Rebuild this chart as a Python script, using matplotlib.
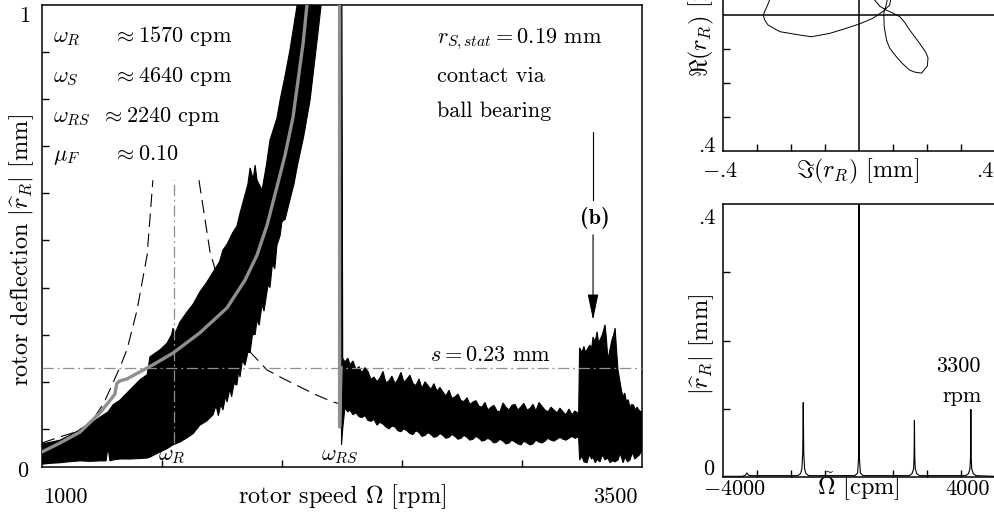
import numpy as np
import matplotlib
matplotlib.use('Agg')
import matplotlib.pyplot as plt

plt.rcParams['font.family'] = 'cmr10'
plt.rcParams['mathtext.fontset'] = 'cm'
plt.rcParams['axes.unicode_minus'] = False
plt.rcParams['axes.linewidth'] = 1.1

# --- run-up measurement: upper and lower edge of the black band (rpm, mm)
upper_rpm = [1000, 1040, 1075, 1110, 1158, 1200, 1242, 1275, 1296, 1325, 1367, 1408, 1438, 1450,
             1492, 1521, 1540, 1546, 1552, 1575, 1604, 1630, 1658, 1685, 1713, 1740, 1754, 1771,
             1796, 1812, 1825, 1846, 1858, 1867, 1880, 1888, 1896, 1917, 1935, 1950, 1979, 1992,
             2013, 2033, 2063, 2090, 2248,
             2253, 2262, 2275, 2283, 2296, 2308, 2321, 2333, 2346, 2358, 2371, 2383, 2396, 2408,
             2421, 2433, 2446, 2458, 2471, 2483, 2496, 2508, 2521, 2533, 2546, 2558, 2571, 2583,
             2596, 2608, 2621, 2633, 2646, 2658, 2671, 2683, 2696, 2708, 2721, 2733, 2746, 2758,
             2771, 2783, 2796, 2808, 2821, 2833, 2846, 2858, 2871, 2883, 2896, 2908, 2921, 2933,
             2946, 2958, 2971, 2983, 2996, 3008, 3021, 3033, 3046, 3058, 3071, 3083, 3096, 3108,
             3121, 3133, 3146, 3158, 3171, 3183, 3196, 3208, 3221, 3236, 3240, 3250, 3258, 3265,
             3271, 3283, 3290, 3296, 3305, 3313, 3320, 3325, 3335, 3346, 3352, 3358, 3367, 3375,
             3382, 3388, 3395, 3400, 3410, 3415, 3421, 3428, 3435, 3442, 3450, 3458, 3465, 3472,
             3479, 3490, 3500]
upper_mm = [0.068, 0.072, 0.076, 0.085, 0.098, 0.110, 0.125, 0.136, 0.151, 0.161, 0.183, 0.204,
            0.215, 0.253, 0.268, 0.282, 0.300, 0.314, 0.300, 0.327, 0.348, 0.365, 0.391, 0.410,
            0.433, 0.455, 0.480, 0.492, 0.518, 0.530, 0.558, 0.597, 0.620, 0.654, 0.630, 0.660,
            0.628, 0.607, 0.660, 0.713, 0.760, 0.798, 0.850, 0.904, 1.0, 1.3, 1.3,
            0.250, 0.242, 0.250, 0.236, 0.244, 0.226, 0.232, 0.219, 0.230, 0.222, 0.205, 0.210,
            0.200, 0.208, 0.222, 0.198, 0.202, 0.212, 0.196, 0.205, 0.220, 0.199, 0.206, 0.214,
            0.196, 0.192, 0.206, 0.186, 0.200, 0.192, 0.184, 0.196, 0.180, 0.188, 0.178, 0.170,
            0.182, 0.165, 0.168, 0.174, 0.160, 0.158, 0.166, 0.152, 0.157, 0.160, 0.148, 0.146,
            0.156, 0.140, 0.146, 0.150, 0.138, 0.136, 0.155, 0.146, 0.140, 0.150, 0.152, 0.140,
            0.147, 0.154, 0.140, 0.143, 0.152, 0.138, 0.156, 0.148, 0.140, 0.136, 0.146, 0.140,
            0.134, 0.144, 0.136, 0.130, 0.142, 0.130, 0.138, 0.132, 0.272, 0.262, 0.275, 0.262,
            0.268, 0.278, 0.270, 0.295, 0.285, 0.306, 0.280, 0.289, 0.300, 0.321, 0.290, 0.246,
            0.270, 0.289, 0.300, 0.314, 0.260, 0.225, 0.195, 0.180, 0.168, 0.176, 0.158, 0.162,
            0.146, 0.152, 0.150, 0.140, 0.146, 0.138, 0.136]
lower_rpm = [1000, 1040, 1075, 1110, 1158, 1200, 1242, 1267, 1275, 1283, 1296, 1325, 1367, 1408,
             1438, 1450, 1492, 1521, 1546, 1575, 1604, 1630, 1658, 1685, 1713, 1725, 1735, 1745,
             1754, 1765, 1771, 1783, 1790, 1800, 1812, 1820, 1825, 1835, 1846, 1858, 1867, 1877,
             1888, 1896, 1905, 1917, 1925, 1942, 1950, 1960, 1970, 1979, 1992, 2000, 2013, 2033,
             2050, 2063, 2090, 2117, 2150, 2163, 2200, 2248, 2248,
             2253, 2262, 2275, 2283, 2296, 2308, 2321, 2333, 2346, 2358, 2371, 2383, 2396, 2408,
             2421, 2433, 2446, 2458, 2471, 2483, 2496, 2508, 2521, 2533, 2546, 2558, 2571, 2583,
             2596, 2608, 2621, 2633, 2646, 2658, 2671, 2683, 2696, 2708, 2721, 2733, 2746, 2758,
             2771, 2783, 2796, 2808, 2821, 2833, 2846, 2858, 2871, 2883, 2896, 2908, 2921, 2933,
             2946, 2958, 2971, 2983, 2996, 3008, 3021, 3033, 3046, 3058, 3071, 3083, 3096, 3108,
             3121, 3133, 3146, 3158, 3171, 3183, 3196, 3208, 3221, 3236, 3240, 3250, 3258, 3271,
             3280, 3290, 3296, 3305, 3313, 3325, 3335, 3346, 3358, 3367, 3375, 3388, 3400, 3410,
             3421, 3430, 3440, 3450, 3460, 3470, 3479, 3490, 3500]
lower_mm = [0.025, 0.027, 0.028, 0.030, 0.032, 0.031, 0.032, 0.032, 0.062, 0.032, 0.034, 0.036,
            0.036, 0.037, 0.038, 0.040, 0.051, 0.058, 0.066, 0.072, 0.081, 0.090, 0.108, 0.116,
            0.130, 0.150, 0.128, 0.152, 0.140, 0.170, 0.157, 0.185, 0.168, 0.196, 0.193, 0.225,
            0.210, 0.245, 0.235, 0.263, 0.262, 0.300, 0.300, 0.331, 0.320, 0.365, 0.350, 0.406,
            0.400, 0.450, 0.440, 0.490, 0.510, 0.540, 0.545, 0.586, 0.620, 0.656, 0.720, 0.798,
            0.941, 1.0, 1.2, 1.2, 0.066,
            0.100, 0.144, 0.136, 0.140, 0.130, 0.134, 0.126, 0.124, 0.128, 0.118, 0.116, 0.120,
            0.108, 0.114, 0.110, 0.104, 0.100, 0.106, 0.104, 0.096, 0.094, 0.100, 0.096, 0.090,
            0.088, 0.096, 0.092, 0.084, 0.086, 0.092, 0.088, 0.082, 0.084, 0.090, 0.086, 0.080,
            0.082, 0.088, 0.084, 0.078, 0.080, 0.086, 0.082, 0.076, 0.078, 0.084, 0.080, 0.074,
            0.076, 0.080, 0.076, 0.070, 0.072, 0.078, 0.074, 0.068, 0.070, 0.076, 0.072, 0.068,
            0.066, 0.074, 0.070, 0.066, 0.068, 0.076, 0.072, 0.070, 0.074, 0.080, 0.076, 0.074,
            0.078, 0.082, 0.078, 0.076, 0.080, 0.084, 0.080, 0.083, 0.034, 0.042, 0.030, 0.028,
            0.045, 0.036, 0.040, 0.028, 0.035, 0.030, 0.045, 0.034, 0.038, 0.028, 0.032, 0.030,
            0.034, 0.048, 0.028, 0.040, 0.030, 0.034, 0.050, 0.036, 0.040, 0.045, 0.055]

# --- simulation (grey)
sim_rpm = [1000, 1075, 1158, 1242, 1292, 1304, 1308, 1312, 1325, 1354, 1408, 1462, 1546, 1658,
           1771, 1846, 1896, 1938, 1979, 2013, 2046, 2088, 2104, 2117, 2240, 2240, 2246]
sim_mm = [0.051, 0.070, 0.093, 0.134, 0.166, 0.174, 0.187, 0.197, 0.202, 0.206, 0.221, 0.236,
          0.261, 0.304, 0.357, 0.416, 0.469, 0.533, 0.614, 0.682, 0.762, 0.919, 1.0, 1.05,
          1.3, 0.104, 0.230]

# --- linear resonance curve (dashed), two branches
lin_left_rpm = [1000, 1075, 1138, 1204, 1258, 1325, 1354, 1396, 1438, 1462]
lin_left_mm = [0.070, 0.083, 0.093, 0.113, 0.155, 0.231, 0.268, 0.352, 0.469, 0.628]
lin_right_rpm = [1654, 1700, 1783, 1858, 1938, 2000, 2075, 2143, 2213, 2242]
lin_right_mm = [0.628, 0.476, 0.331, 0.268, 0.225, 0.208, 0.189, 0.172, 0.157, 0.153]

omega_R = 1550      # rpm, position of the omega_R marker
s_gap = 0.23        # mm

# --- orbit at 3300 rpm (Im, Re) in mm, two visible arcs
orbit_im = [-0.245, -0.257, -0.269, -0.282, -0.277, -0.268, -0.233, -0.174, -0.140, -0.086,
            -0.037, 0.002, 0.040, 0.070, 0.090, 0.096, 0.084, np.nan,
            0.037, 0.046, 0.061, 0.079, 0.099, 0.120, 0.134, 0.149, 0.178, 0.196, 0.203,
            0.201, 0.184, 0.164, 0.149, 0.129, 0.110, 0.090, 0.081, 0.074, 0.073, 0.081, 0.087]
orbit_re = [0.103, 0.059, 0.029, 0.000, -0.015, -0.029, -0.049, -0.059, -0.064, -0.054,
            -0.039, -0.026, -0.010, 0.010, 0.029, 0.059, 0.088, np.nan,
            0.074, 0.044, 0.026, 0.015, 0.006, -0.005, -0.021, -0.044, -0.083, -0.109, -0.126,
            -0.150, -0.171, -0.168, -0.162, -0.144, -0.123, -0.097, -0.074, -0.034, 0.005,
            0.034, 0.068]

# --- spectrum at 3300 rpm
spec_cpm = [-4000, -3450, -3360, -3320, -3295, -3270, -3230, -1800, -1720, -1680, -1655,
            -1640, -1625, -1600, -1560, -1480, -120, -40, -10, 0, 10, 40, 120, 1480, 1560,
            1605, 1620, 1630, 1640, 1655, 1700, 1780, 3140, 3220, 3265, 3280, 3290, 3300,
            3315, 3360, 3440, 4000]
spec_mm = [0.001, 0.001, 0.002, 0.004, 0.006, 0.004, 0.002, 0.002, 0.005, 0.012, 0.035,
           0.109, 0.035, 0.012, 0.005, 0.002, 0.002, 0.006, 0.03, 0.8, 0.03, 0.006, 0.002,
           0.002, 0.005, 0.012, 0.03, 0.083, 0.03, 0.012, 0.005, 0.002, 0.002, 0.005, 0.012,
           0.03, 0.099, 0.03, 0.012, 0.005, 0.002, 0.001]

W, H = 994, 517
fig = plt.figure(figsize=(W / 100, H / 100), dpi=100)


def rect(l, t, r, b):
    return [l / W, 1 - b / H, (r - l) / W, (b - t) / H]


def ftext(px, py, s, **kw):
    fig.text(px / W, 1 - py / H, s, **kw)


grey = '#8f8f8f'
fs = 16        # tick numbers
fl = 17.5      # axis labels
fa = 16        # annotations

# ---------------- main panel
ax = fig.add_axes(rect(42, 5, 642, 467))
ax.set_xlim(1000, 3500)
ax.set_ylim(0.019, 1.0)
ax.plot(lin_left_rpm, lin_left_mm, color='k', lw=0.8, ls=(0, (12, 6)), zorder=1)
ax.plot(lin_right_rpm, lin_right_mm, color='k', lw=0.8, ls=(0, (12, 6)), zorder=1)
ax.fill(upper_rpm + lower_rpm[::-1], upper_mm + lower_mm[::-1],
        facecolor='k', edgecolor='k', lw=0.8, zorder=2)
ax.plot(sim_rpm, sim_mm, color=grey, lw=2.4, zorder=3, solid_joinstyle='round')
ax.axhline(s_gap, color=grey, lw=0.9, ls=(0, (9, 3, 1.5, 3)), zorder=4)
ax.plot([omega_R, omega_R], [0.07, 0.628], color=grey, lw=0.9, ls=(0, (9, 3, 1.5, 3)), zorder=4)

ax.set_xticks([1500, 2000, 2500, 3000])
ax.set_yticks(np.arange(0.1, 0.95, 0.1))
ax.tick_params(direction='in', length=5, width=1, labelbottom=False, labelleft=False)

ax.annotate('', xy=(3296, 0.331), xytext=(3296, 0.512),
            arrowprops=dict(arrowstyle='-|>,head_length=1.6,head_width=0.33', color='k',
                            lw=0.8, shrinkA=0, shrinkB=0, mutation_scale=10))
ax.plot([3296, 3296], [0.586, 0.730], color='k', lw=0.8)

# text of main panel
ftext(53, 42, r'$\omega_R$', fontsize=fa)
ftext(113, 42, r'$\approx 1570$ cpm', fontsize=fa)
ftext(53, 82, r'$\omega_S$', fontsize=fa)
ftext(113, 82, r'$\approx 4640$ cpm', fontsize=fa)
ftext(53, 122, r'$\omega_{RS}$', fontsize=fa)
ftext(101, 122, r'$\approx 2240$ cpm', fontsize=fa)
ftext(53, 160, r'$\mu_F$', fontsize=fa)
ftext(113, 160, r'$\approx 0.10$', fontsize=fa)
ftext(437, 43, r'$r_{S,stat} = 0.19$ mm', fontsize=fa)
ftext(437, 82, 'contact via', fontsize=fa)
ftext(437, 117, 'ball bearing', fontsize=fa)
ftext(595, 218, '(b)', fontsize=fa, family='cmb10', ha='center', va='center')
ftext(490, 361, r'$s = 0.23$ mm', fontsize=fa, ha='center')
ftext(172, 460, r'$\omega_R$', fontsize=fa, ha='center')
ftext(340, 460, r'$\omega_{RS}$', fontsize=fa, ha='center')

ftext(43, 503, '1000', fontsize=fs)
ftext(638, 503, '3500', fontsize=fs, ha='right')
ftext(342, 503, r'rotor speed $\Omega$ [rpm]', fontsize=fl, ha='center')
ftext(28, 477, '0', fontsize=fs, ha='right')
ftext(30, 22, '1', fontsize=fs, ha='right')
ftext(22, 250, r'rotor deflection $|\widehat{r}_R|$ [mm]', fontsize=fl, rotation=90,
      ha='center', va='center')

# ---------------- orbit panel
axo = fig.add_axes(rect(723, -121, 995, 151))
axo.set_xlim(-0.4, 0.4)
axo.set_ylim(-0.4, 0.4)
axo.axhline(0, color='k', lw=1.1)
axo.axvline(0, color='k', lw=1.1)
axo.plot(orbit_im, orbit_re, color='k', lw=0.7)
axo.set_xticks([-0.3, -0.2, -0.1, 0.1, 0.2, 0.3])
axo.set_yticks([-0.3, -0.2, -0.1, 0.1, 0.2, 0.3])
axo.tick_params(direction='in', length=5, width=1, labelbottom=False, labelleft=False)

ftext(720, 177, r'$-$.4', fontsize=fs, ha='center')
ftext(993, 177, '.4', fontsize=fs, ha='right')
ftext(858, 177, r'$\Im(r_R)$ [mm]', fontsize=fl, ha='center')
ftext(716, 152, '.4', fontsize=fs, ha='right')
ftext(701, 15, r'$\Re(r_R)$ [mm]', fontsize=fl, rotation=90, ha='center', va='center')

# ---------------- spectrum panel
axs = fig.add_axes(rect(723, 204, 995, 477))
axs.set_xlim(-4000, 4000)
axs.set_ylim(0, 0.4)
axs.plot(spec_cpm, spec_mm, color='k', lw=0.8)
axs.set_xticks([-3000, -2000, -1000, 1000, 2000, 3000])
axs.set_yticks([0.1, 0.2, 0.3])
axs.tick_params(direction='in', length=5, width=1, labelbottom=False, labelleft=False)

ftext(716, 224, '.4', fontsize=fs, ha='right')
ftext(714, 475, '0', fontsize=fs, ha='right')
ftext(734, 495, r'$-4000$', fontsize=fs, ha='center')
ftext(990, 495, '4000', fontsize=fs, ha='right')
ftext(858, 495, r'$\tilde{\Omega}$ [cpm]', fontsize=fl, ha='center')
ftext(702, 344, r'$|\widehat{r}_R|$ [mm]', fontsize=fl, rotation=90, ha='center', va='center')
ftext(958, 372, '3300', fontsize=fs, ha='center')
ftext(962, 402, 'rpm', fontsize=fs, ha='center')

fig.savefig('out.png', dpi=100)
